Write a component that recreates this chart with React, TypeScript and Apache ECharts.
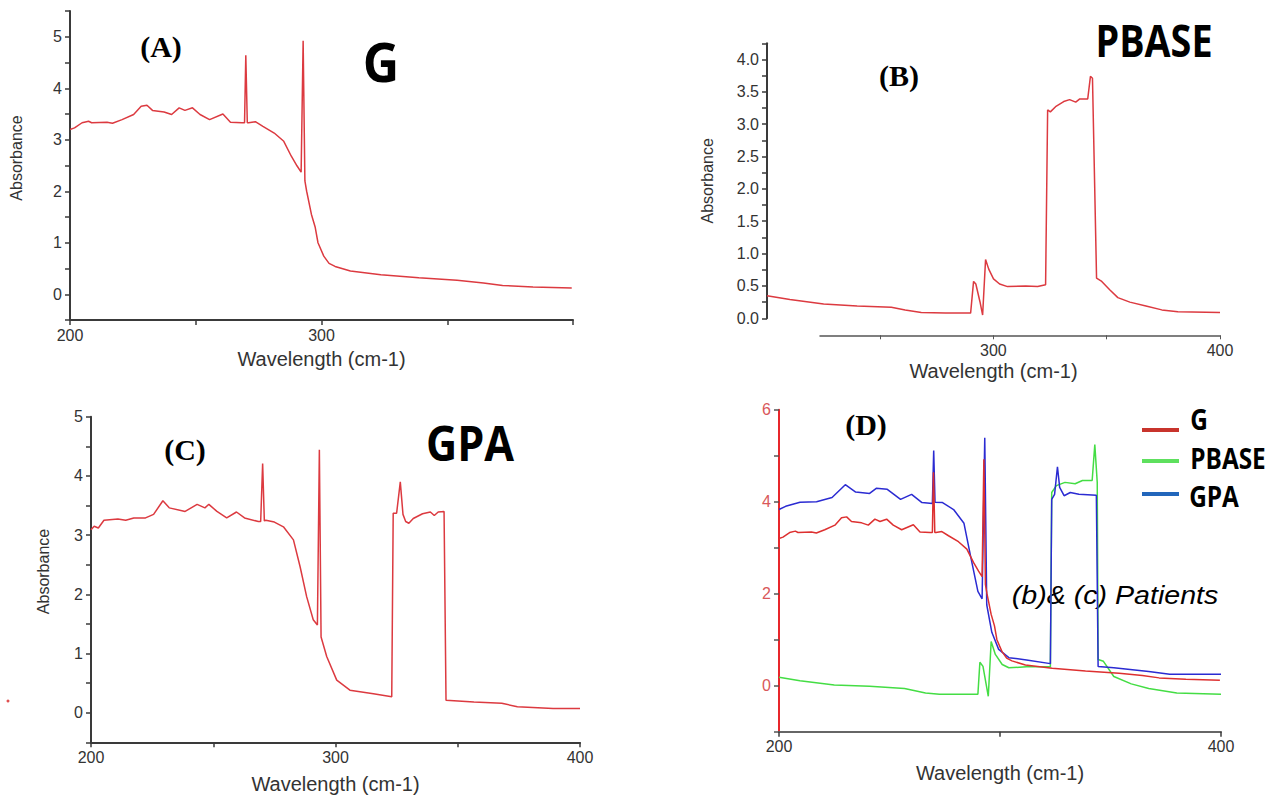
import React, { useEffect, useRef } from "react";
import * as echarts from "echarts";

// ---------- Panel A : G ----------
const gX = [200, 201.8, 204.8, 207.4, 208.6, 214.7, 216.9, 220.7, 225.3, 228.3, 230.6, 232.8, 237.4, 240.4, 243.4, 245.7, 248.7, 251.7, 255.5, 260.8, 263.8, 268.4, 269.4, 269.9, 270.5, 271, 273.7, 276.7, 281.2, 285, 288, 290.3, 291.9, 292.7, 293.4, 294.1, 296, 297.5, 298.6, 300.9, 303, 305.4, 311.5, 323.6, 338.7, 353.9, 364.4, 372, 384.1, 399.5];
const gY = [3.2, 3.23, 3.33, 3.36, 3.33, 3.34, 3.32, 3.39, 3.49, 3.65, 3.67, 3.57, 3.54, 3.49, 3.62, 3.57, 3.62, 3.49, 3.39, 3.5, 3.34, 3.33, 3.33, 4.64, 3.33, 3.33, 3.35, 3.26, 3.13, 2.97, 2.68, 2.49, 2.37, 4.92, 2.2, 2.0, 1.55, 1.3, 1.0, 0.74, 0.6, 0.54, 0.45, 0.38, 0.32, 0.27, 0.22, 0.17, 0.14, 0.12];

// ---------- Panel B : PBASE ----------
const pbX = [200, 210.1, 225, 239.8, 254.9, 261, 268.1, 278.8, 289.9, 291.2, 292.2, 294, 295.2, 296.5, 297.9, 300, 302.7, 306.2, 314.2, 319.5, 323, 323.9, 325.1, 327.4, 331, 333.6, 336.3, 338.1, 341.6, 342.8, 343.7, 345.5, 347.8, 351.3, 354.9, 360.2, 367.3, 374.3, 381.4, 400];
const pbY = [0.35, 0.29, 0.22, 0.19, 0.17, 0.13, 0.09, 0.08, 0.08, 0.57, 0.53, 0.26, 0.05, 0.91, 0.76, 0.61, 0.53, 0.49, 0.5, 0.49, 0.52, 3.22, 3.19, 3.27, 3.35, 3.38, 3.34, 3.39, 3.39, 3.74, 3.71, 0.62, 0.57, 0.44, 0.32, 0.25, 0.19, 0.13, 0.1, 0.09];

// ---------- Panel C : GPA ----------
const gpaX = [200, 201.3, 203, 205.3, 211, 214.2, 217.5, 222.3, 225.6, 229.4, 232, 238.5, 243.4, 246.6, 248.2, 251.5, 255.5, 259.5, 262.8, 268.4, 269.4, 270.2, 270.9, 271.5, 275, 278.7, 282.8, 285.5, 288.2, 290.9, 292.6, 293.4, 294.1, 296.4, 300.5, 305.9, 315.5, 323, 323.6, 325, 326.5, 327.6, 328.7, 330, 331.8, 335.6, 338.8, 340.4, 342, 344.4, 345.2, 356.6, 368, 374.4, 389, 400];
const gpaY = [3.09, 3.15, 3.12, 3.25, 3.27, 3.25, 3.29, 3.29, 3.35, 3.58, 3.46, 3.4, 3.52, 3.46, 3.52, 3.4, 3.29, 3.39, 3.29, 3.23, 3.23, 4.21, 3.24, 3.25, 3.22, 3.14, 2.92, 2.47, 1.96, 1.57, 1.48, 4.44, 1.28, 0.95, 0.55, 0.38, 0.32, 0.27, 3.37, 3.37, 3.9, 3.35, 3.23, 3.2, 3.28, 3.36, 3.39, 3.33, 3.39, 3.4, 0.21, 0.18, 0.16, 0.1, 0.07, 0.07];

// ---------- Panel D : overlay (patients) ----------
const dBlueX = [200, 203, 209.5, 217, 224, 230, 234.7, 241, 244, 249, 255, 260, 264.7, 269.4, 270, 270.6, 274, 279, 283.7, 286.8, 290, 291.9, 293.1, 294, 296.3, 299.4, 304, 312, 322.8, 323.4, 324.7, 326, 327, 329, 331.8, 335.7, 343.6, 344.4, 351.5, 367.3, 376.8, 400];
const dBlueY = [3.83, 3.9, 3.99, 4.0, 4.09, 4.37, 4.21, 4.18, 4.29, 4.27, 4.05, 4.16, 3.98, 3.96, 5.11, 3.99, 3.98, 3.83, 3.53, 2.79, 2.05, 1.89, 5.39, 1.76, 1.16, 0.79, 0.61, 0.56, 0.48, 4.05, 4.16, 4.76, 4.31, 4.13, 4.2, 4.16, 4.14, 0.42, 0.39, 0.31, 0.25, 0.25];
const dGreenX = [200, 209.5, 225, 241, 256.8, 266.3, 272.6, 290, 290.9, 292.3, 294.7, 296, 297.9, 301, 304, 312, 322.8, 323.4, 325.5, 329.4, 334, 337.3, 341.7, 342.9, 344, 344.4, 346.8, 351.5, 359.4, 367.3, 380, 400];
const dGreenY = [0.185, 0.11, 0.015, -0.01, -0.06, -0.16, -0.185, -0.185, 0.51, 0.42, -0.23, 0.96, 0.68, 0.46, 0.39, 0.41, 0.41, 4.2, 4.35, 4.42, 4.39, 4.46, 4.46, 5.24, 4.42, 0.57, 0.53, 0.2, 0.04, -0.06, -0.16, -0.185];

const legendNames = ["G", "PBASE", "GPA"];
const xName = "Wavelength (cm-1)";
const yName = "Absorbance";

const pairs = (xs: number[], ys: number[]) => xs.map((x, i) => [x, ys[i]]);

const AX = "#3a3a3a";
const LBL = "#333";
const FONT = "Liberation Sans, Arial, sans-serif";
const LINE_RED = "#dc3a40";
const TICK_FS = 16;

function baseX(gridIndex: number, extra: any = {}) {
  return {
    type: "value",
    gridIndex,
    min: 200,
    max: 400,
    interval: 50,
    splitLine: { show: false },
    axisLine: { show: true, onZero: false, lineStyle: { color: AX, width: 2 } },
    axisTick: { show: true, length: 5, lineStyle: { color: AX, width: 1.5 } },
    axisLabel: {
      color: LBL,
      fontSize: TICK_FS,
      fontFamily: FONT,
      margin: 7,
      formatter: (v: number) => (v % 100 === 0 ? String(v) : ""),
    },
    name: xName,
    nameLocation: "middle",
    nameGap: 29,
    nameTextStyle: { color: LBL, fontSize: 20, fontFamily: FONT },
    ...extra,
  };
}

function baseY(gridIndex: number, extra: any = {}) {
  return {
    type: "value",
    gridIndex,
    splitLine: { show: false },
    axisLine: { show: true, onZero: false, lineStyle: { color: AX, width: 2 } },
    axisTick: { show: true, length: 5, lineStyle: { color: AX, width: 1.5 } },
    axisLabel: { color: LBL, fontSize: TICK_FS, fontFamily: FONT, margin: 8 },
    nameLocation: "middle",
    nameRotate: 90,
    nameTextStyle: { color: LBL, fontSize: 16, fontFamily: FONT },
    ...extra,
  };
}

function txt(text: string, x: number, y: number, size: number, opts: any = {}) {
  const { scaleX = 1, weight = "bold", family = "Liberation Serif, serif", style = "normal", fill = "#000" } = opts;
  return {
    type: "text",
    x,
    y,
    scaleX,
    silent: true,
    style: {
      text,
      fontSize: size,
      fontWeight: weight,
      fontFamily: family,
      fontStyle: style,
      fill,
      align: "center",
      verticalAlign: "middle",
      textAlign: "center",
      textVerticalAlign: "middle",
    },
  };
}

export default function App() {
  const ref = useRef<HTMLDivElement>(null);

  useEffect(() => {
    if (!ref.current) return;
    const chart = echarts.init(ref.current, null, { renderer: "svg" });
    const isInt = (v: number) => Math.abs(v - Math.round(v)) < 1e-9;
    const calibri = "Open Sans, Noto Sans, sans-serif";

    const option: any = {
      animation: false,
      backgroundColor: "#fff",
      textStyle: { fontFamily: FONT },
      grid: [
        { left: 70, top: 11, width: 503, height: 309, outerBoundsMode: "none" },
        { left: 767, top: 43.3, width: 453, height: 275, outerBoundsMode: "none" },
        { left: 820, top: 43.3, width: 400, height: 275, outerBoundsMode: "none" },
        { left: 91, top: 416.7, width: 489, height: 325.6, outerBoundsMode: "none" },
        { left: 779, top: 409.7, width: 442, height: 322, outerBoundsMode: "none" },
      ],
      xAxis: [
        baseX(0, {
          axisLabel: {
            color: LBL,
            fontSize: TICK_FS,
            fontFamily: FONT,
            margin: 7,
            formatter: (v: number) => (v === 200 || v === 300 ? String(v) : ""),
          },
        }),
        baseX(1, {
          axisLine: { show: false, onZero: false },
          axisTick: { show: false },
          axisLabel: { show: false },
          offset: 17,
          nameGap: 26,
        }),
        {
          type: "value",
          gridIndex: 2,
          min: 223.5,
          max: 400,
          offset: 17,
          splitLine: { show: false },
          axisLine: { show: true, onZero: false, lineStyle: { color: "#555", width: 1.5 } },
          axisTick: { show: true, length: 4, customValues: [250, 300, 350, 400], lineStyle: { color: "#555" } },
          axisLabel: { show: true, color: LBL, fontSize: TICK_FS, fontFamily: FONT, margin: 7, customValues: [300, 400] },
        },
        baseX(3, { nameGap: 32 }),
        baseX(4, {
          interval: 100,
          axisLine: { show: true, onZero: false, lineStyle: { color: "#666", width: 2 } },
          axisLabel: {
            color: LBL,
            fontSize: TICK_FS,
            fontFamily: FONT,
            margin: 7,
            formatter: (v: number) => (v === 200 || v === 400 ? String(v) : ""),
          },
          nameGap: 31,
        }),
      ],
      yAxis: [
        baseY(0, {
          min: -0.5,
          max: 5.5,
          interval: 0.5,
          name: yName,
          nameGap: 46,
          nameTextStyle: { color: LBL, fontSize: 16, fontFamily: FONT, padding: [0, 0, 0, 15] },
          axisLabel: { color: LBL, fontSize: TICK_FS, fontFamily: FONT, margin: 8, formatter: (v: number) => (isInt(v) && v >= 0 && v <= 5 ? String(v) : "") },
        }),
        baseY(1, {
          min: 0,
          max: 4.25,
          interval: 0.25,
          name: yName,
          nameGap: 52,
          axisLabel: {
            color: LBL,
            fontSize: TICK_FS,
            fontFamily: FONT,
            margin: 8,
            formatter: (v: number) => (isInt(v * 2) && v <= 4 ? v.toFixed(1) : ""),
          },
        }),
        { type: "value", gridIndex: 2, show: false, min: 0, max: 1 },
        baseY(3, {
          min: -0.5,
          max: 5,
          interval: 0.5,
          name: yName,
          nameGap: 40,
          nameTextStyle: { color: LBL, fontSize: 16, fontFamily: FONT, padding: [0, 0, 0, 16] },
          axisLabel: { color: LBL, fontSize: TICK_FS, fontFamily: FONT, margin: 8, formatter: (v: number) => (isInt(v) && v >= 0 ? String(v) : "") },
        }),
        baseY(4, {
          min: -1,
          max: 6,
          interval: 1,
          axisLine: { show: true, onZero: false, lineStyle: { color: "#e8262b", width: 2 } },
          axisTick: { show: true, length: 5, lineStyle: { color: "#555", width: 1.5 } },
          axisLabel: {
            color: "#d9585a",
            fontSize: TICK_FS,
            fontFamily: FONT,
            margin: 8,
            formatter: (v: number) => (v >= 0 && v % 2 === 0 ? String(v) : ""),
          },
        }),
      ],
      series: [
        {
          name: "G-A",
          type: "line",
          xAxisIndex: 0,
          yAxisIndex: 0,
          data: pairs(gX, gY),
          showSymbol: false,
          lineStyle: { color: LINE_RED, width: 1.5 },
        },
        {
          name: "PBASE-B",
          type: "line",
          xAxisIndex: 1,
          yAxisIndex: 1,
          data: pairs(pbX, pbY),
          showSymbol: false,
          lineStyle: { color: LINE_RED, width: 1.5 },
        },
        {
          name: "GPA-C",
          type: "line",
          xAxisIndex: 3,
          yAxisIndex: 3,
          data: pairs(gpaX, gpaY),
          showSymbol: false,
          lineStyle: { color: LINE_RED, width: 1.5 },
        },
        {
          name: legendNames[1],
          type: "line",
          xAxisIndex: 4,
          yAxisIndex: 4,
          data: pairs(dGreenX, dGreenY),
          showSymbol: false,
          lineStyle: { color: "#44dd44", width: 1.5 },
        },
        {
          name: legendNames[2],
          type: "line",
          xAxisIndex: 4,
          yAxisIndex: 4,
          data: pairs(dBlueX, dBlueY),
          showSymbol: false,
          lineStyle: { color: "#2b2bd2", width: 1.5 },
        },
        {
          name: legendNames[0],
          type: "line",
          xAxisIndex: 4,
          yAxisIndex: 4,
          data: pairs(gX, gY),
          showSymbol: false,
          lineStyle: { color: "#dd3030", width: 1.5 },
        },
      ],
      graphic: [
        txt("(A)", 161, 46, 30),
        txt("(B)", 899, 75, 30),
        txt("(C)", 185, 449, 30),
        txt("(D)", 866, 424, 30),
        txt("G", 381, 61, 53, { family: calibri, scaleX: 0.95 }),
        txt("PBASE", 1154, 40, 45, { family: calibri, scaleX: 0.84 }),
        txt("GPA", 470, 442, 49, { family: calibri, scaleX: 0.88 }),
        txt("(b)& (c) Patients", 1115, 595, 26, { family: FONT, weight: "normal", style: "italic", scaleX: 1.1 }),
        { type: "line", silent: true, shape: { x1: 1142, y1: 430, x2: 1179, y2: 430 }, style: { stroke: "#c8342c", lineWidth: 4 } },
        { type: "line", silent: true, shape: { x1: 1142, y1: 461, x2: 1179, y2: 461 }, style: { stroke: "#5ee05e", lineWidth: 4 } },
        { type: "line", silent: true, shape: { x1: 1142, y1: 494, x2: 1179, y2: 494 }, style: { stroke: "#2266bb", lineWidth: 4 } },
        txt(legendNames[0], 1199, 419, 28, { family: calibri, scaleX: 0.87 }),
        txt(legendNames[1], 1228, 458, 28, { family: calibri, scaleX: 0.87 }),
        txt(legendNames[2], 1214, 496, 28, { family: calibri, scaleX: 0.87 }),
        { type: "circle", silent: true, shape: { cx: 8, cy: 701, r: 1.5 }, style: { fill: "#e05050" } },
      ],
    };

    chart.setOption(option);
    return () => chart.dispose();
  }, []);

  return (
    <div
      ref={ref}
      style={{ position: "absolute", left: 0, top: 0, width: 1278, height: 796, background: "#fff" }}
    />
  );
}
